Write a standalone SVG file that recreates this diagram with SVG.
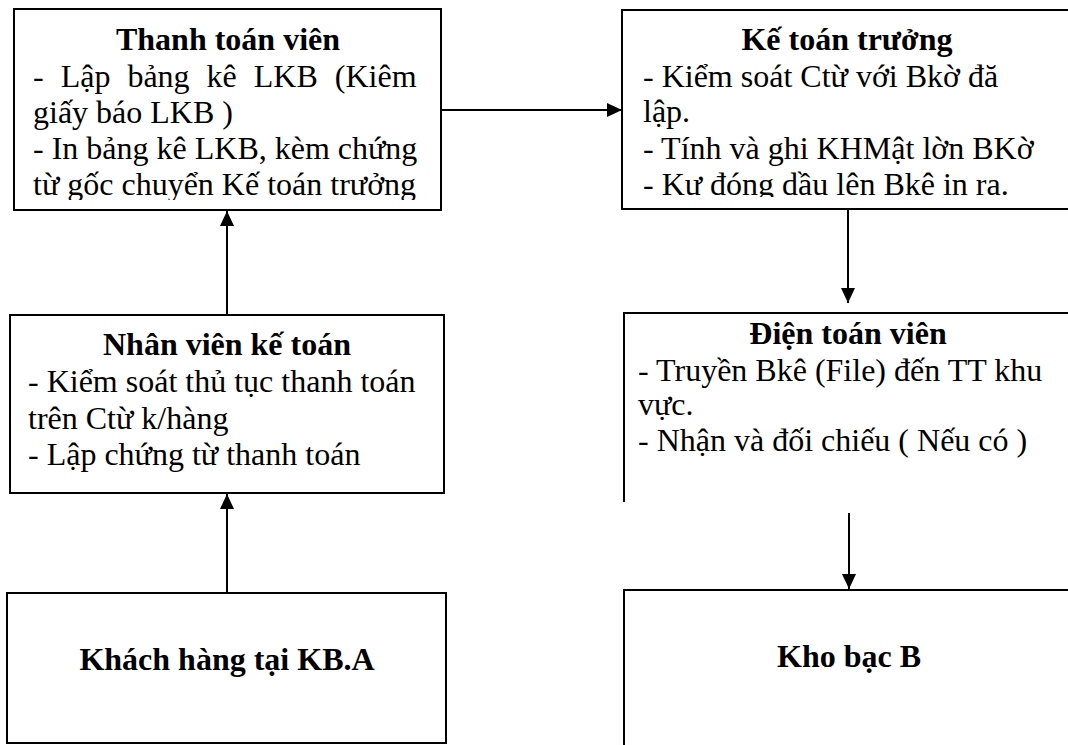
<svg xmlns="http://www.w3.org/2000/svg" width="1068" height="745" viewBox="0 0 1068 745">
<style>
.box{fill:#fff;stroke:#000;stroke-width:2}
.edge{fill:none;stroke:#000;stroke-width:2}
.t{font-family:"Liberation Serif","Times New Roman",serif;font-size:32px;fill:#000}
.b{font-weight:bold;text-anchor:middle}
.c{stroke:#000;stroke-width:2;fill:none}
</style>
<defs>
<marker id="ah" markerUnits="userSpaceOnUse" markerWidth="16" markerHeight="14" refX="15" refY="7" orient="auto">
<path d="M0,0 L15,7 L0,14 z" fill="#000"/>
</marker>
<clipPath id="c1"><rect x="14" y="9" width="427" height="191"/></clipPath>
<clipPath id="c2"><rect x="622" y="10" width="446" height="187"/></clipPath>
</defs>
<rect width="1068" height="745" fill="#fff"/>

<g id="thanh-toan-vien">
<rect class="box" x="14" y="9" width="427" height="201"/>
<g clip-path="url(#c1)">
<text class="t b" x="228" y="50">Thanh toán viên</text>
<text class="t" x="33" y="87" style="word-spacing:9px">- Lập bảng kê LKB (Kiêm</text>
<text class="t" x="33" y="123">giấy báo LKB )</text>
<text class="t" x="33" y="159">- In bảng kê LKB, kèm chứng</text>
<text class="t" x="33" y="195">từ gốc chuyển Kế toán trưởng</text>
</g>
</g>

<g id="ke-toan-truong">
<path class="edge" d="M1072,10 H622 V209 H1072"/>
<g clip-path="url(#c2)">
<text class="t b" x="847" y="50">Kế toán trưởng</text>
<text class="t" x="643" y="87">- Kiểm soát Ctừ với Bkờ đă</text>
<text class="t" x="643" y="122">lập.</text>
<text class="t" x="643" y="159">- Tính và ghi KHMật lờn BKờ</text>
<text class="t" x="643" y="195">- Kư đóng dầu lên Bkê in ra.</text>
</g>
</g>

<g id="nhan-vien-ke-toan">
<rect class="box" x="10" y="315" width="434" height="178"/>
<text class="t b" x="227" y="355">Nhân viên kế toán</text>
<text class="t" x="28" y="392">- Kiểm soát thủ tục thanh toán</text>
<text class="t" x="28" y="429">trên Ctừ k/hàng</text>
<text class="t" x="28" y="465">- Lập chứng từ thanh toán</text>
</g>

<g id="dien-toan-vien">
<path class="edge" d="M1072,313 H624 V502"/>
<text class="t b" x="848" y="344">Điện toán viên</text>
<text class="t" x="638" y="381">- Truyền Bkê (File) đến TT khu</text>
<text class="t" x="638" y="415">vực.</text>
<text class="t" x="638" y="451">- Nhận và đối chiếu ( Nếu có )</text>
</g>

<g id="khach-hang">
<rect class="box" x="7" y="593" width="439" height="150"/>
<text class="t b" x="227" y="670">Khách hàng tại KB.A</text>
</g>

<g id="kho-bac-b">
<path class="edge" d="M1072,590 H624 V745"/>
<text class="t b" x="849" y="667">Kho bạc B</text>
</g>

<g id="connectors">
<line class="c" x1="441" y1="110" x2="622" y2="110" marker-end="url(#ah)"/>
<line class="c" x1="227" y1="315" x2="227" y2="211" marker-end="url(#ah)"/>
<line class="c" x1="227" y1="593" x2="227" y2="494" marker-end="url(#ah)"/>
<line class="c" x1="848" y1="209" x2="848" y2="303" marker-end="url(#ah)"/>
<line class="c" x1="849" y1="513" x2="849" y2="589" marker-end="url(#ah)"/>
</g>
</svg>
